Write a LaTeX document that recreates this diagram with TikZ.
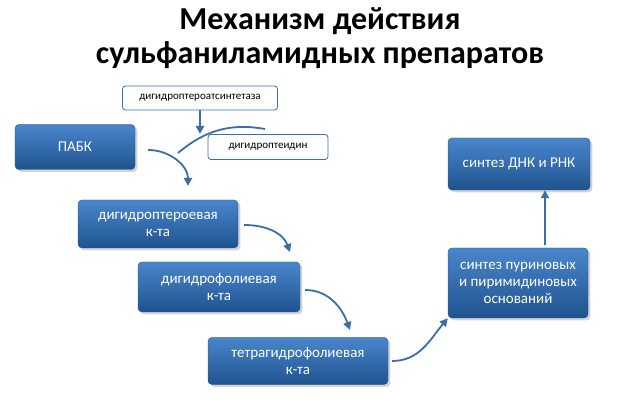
\documentclass[tikz,border=0pt]{standalone}
\usepackage{fontspec}
\setmainfont{Carlito}
\usetikzlibrary{arrows.meta,shadows}
\definecolor{boxtop}{HTML}{4A86CC}
\definecolor{boxbot}{HTML}{1F538F}
\definecolor{linecol}{HTML}{3A6EA8}
\tikzset{
  stagebox/.style={rounded corners=4pt, top color=boxtop, bottom color=boxbot, draw=boxbot,
    text=white, align=center, font=\fontsize{15}{17}\selectfont, drop shadow={opacity=0.35}},
  tagbox/.style={rounded corners=3pt, fill=white, draw=linecol, line width=0.8pt,
    font=\fontsize{11}{13}\selectfont, inner sep=3pt},
  flow/.style={linecol, line width=1.8pt, -{Triangle[length=8pt,width=8pt]}}
}
\begin{document}
\begin{tikzpicture}[x=1pt,y=-1pt]
\useasboundingbox (0,0) rectangle (640,403);
\node [font=\bfseries\fontsize{32}{34}\selectfont, align=center] (title) at (320,38)
  {Механизм действия\\сульфаниламидных препаратов};

\node [stagebox, minimum width=120pt, minimum height=45pt] (pabk) at (75,147) {ПАБК};
\node [stagebox, minimum width=160pt, minimum height=48pt] (dhpt) at (158,224) {дигидроптероевая\\к-та};
\node [stagebox, minimum width=162pt, minimum height=50pt] (dhf) at (219,287) {дигидрофолиевая\\к-та};
\node [stagebox, minimum width=180pt, minimum height=47pt] (thf) at (298,361) {тетрагидрофолиевая\\к-та};
\node [stagebox, minimum width=140pt, minimum height=70pt] (pur) at (518,283) {синтез пуриновых\\и пиримидиновых\\оснований};
\node [stagebox, minimum width=142pt, minimum height=52pt] (dna) at (519,164) {синтез ДНК и РНК};

\node [tagbox, minimum width=155pt, minimum height=24pt] (enz) at (200,98) {дигидроптероатсинтетаза};
\node [tagbox, minimum width=120pt, minimum height=25pt] (ptd) at (268,147) {дигидроптеидин};

\coordinate (join) at (178,153);
\draw [flow] (pabk.east) ++(13,3) to[out=0,in=90] (188,186);
\draw [flow] (enz.south) -- (200,134);
\draw [linecol, line width=1.8pt] (265,129) to[out=170,in=40] (join);
\draw [flow] (dhpt.east) ++(6,1) to[out=0,in=110] (290,252);
\draw [flow] (dhf.east) ++(5,3) to[out=0,in=110] (350,330);
\draw [flow] (thf.east) ++(4,0) to[out=0,in=230] (pur.south west);
\draw [flow] (545,245) -- (dna.south -| 545,0);
\end{tikzpicture}
\end{document}
